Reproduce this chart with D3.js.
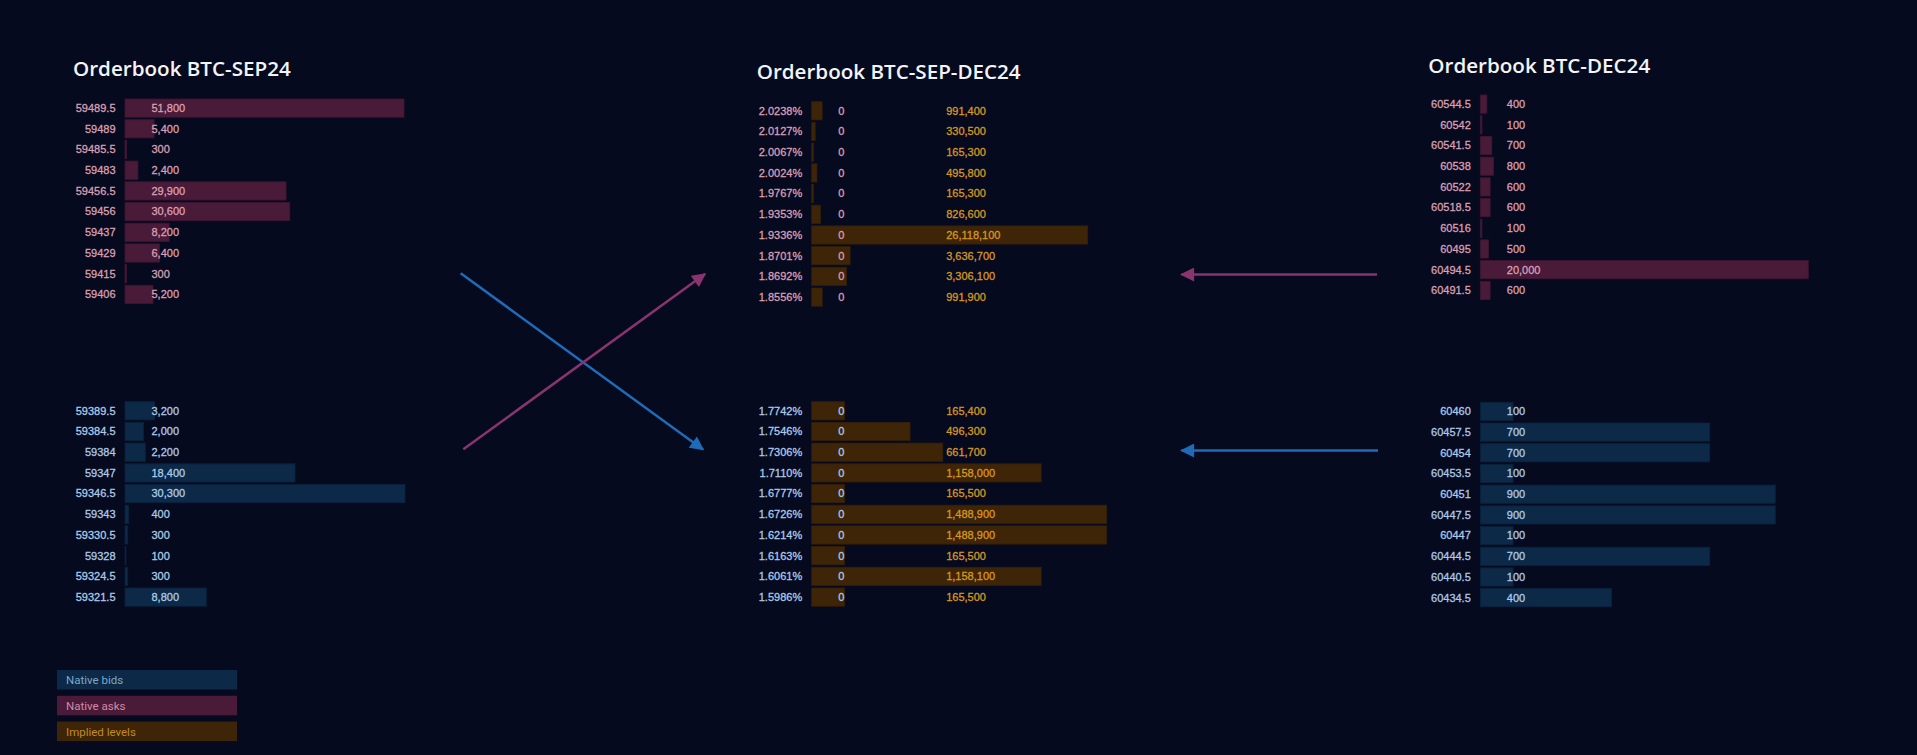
<!DOCTYPE html>
<html>
<head>
<meta charset="utf-8">
<script src="https://cdn.jsdelivr.net/npm/d3@7"></script>
<style>
  html, body { margin: 0; padding: 0; background: #060a1f; }
  svg { display: block; }
</style>
</head>
<body>
<svg id="chart"></svg>
<script>
// dados dos livros
const sepAskPrices = ["59489.5", "59489", "59485.5", "59483", "59456.5", "59456", "59437", "59429", "59415", "59406"];
const sepAskSizes = [51800, 5400, 300, 2400, 29900, 30600, 8200, 6400, 300, 5200];
const sepBidPrices = ["59389.5", "59384.5", "59384", "59347", "59346.5", "59343", "59330.5", "59328", "59324.5", "59321.5"];
const sepBidSizes = [3200, 2000, 2200, 18400, 30300, 400, 300, 100, 300, 8800];

const spreadAskPct = ["2.0238%", "2.0127%", "2.0067%", "2.0024%", "1.9767%", "1.9353%", "1.9336%", "1.8701%", "1.8692%", "1.8556%"];
const spreadAskNative = [0, 0, 0, 0, 0, 0, 0, 0, 0, 0];
const spreadAskImplied = [991400, 330500, 165300, 495800, 165300, 826600, 26118100, 3636700, 3306100, 991900];
const spreadBidPct = ["1.7742%", "1.7546%", "1.7306%", "1.7110%", "1.6777%", "1.6726%", "1.6214%", "1.6163%", "1.6061%", "1.5986%"];
const spreadBidNative = [0, 0, 0, 0, 0, 0, 0, 0, 0, 0];
const spreadBidImplied = [165400, 496300, 661700, 1158000, 165500, 1488900, 1488900, 165500, 1158100, 165500];

const decAskPrices = ["60544.5", "60542", "60541.5", "60538", "60522", "60518.5", "60516", "60495", "60494.5", "60491.5"];
const decAskSizes = [400, 100, 700, 800, 600, 600, 100, 500, 20000, 600];
const decBidPrices = ["60460", "60457.5", "60454", "60453.5", "60451", "60447.5", "60447", "60444.5", "60440.5", "60434.5"];
const decBidSizes = [100, 700, 700, 100, 900, 900, 100, 700, 100, 400];

const titles = ["Orderbook BTC-SEP24", "Orderbook BTC-SEP-DEC24", "Orderbook BTC-DEC24"];
const legendLabels = ["Native bids", "Native asks", "Implied levels"];

const W = 1917, H = 755;
const cores = {
  ask: { bar: "#4a1a39", edge: "#3e1631", text: "#d99fb2" },
  bid: { bar: "#0c2947", edge: "#0a223c", text: "#abc9e8" },
  imp: { bar: "#3f2508", edge: "#341f07", text: "#d6971e" }
};
const fmt = d3.format(",");
const fonte = "11px 'Liberation Sans', Arial, sans-serif";

const svg = d3.select("#chart").attr("width", W).attr("height", H);

svg.append("rect").attr("width", W).attr("height", H).attr("fill", "#060a1f");

const step = 20.7;

function livro(cfg) {
  const g = svg.append("g");
  const rows = cfg.labels.map((l, i) => ({ l, v: cfg.values[i], imp: cfg.implied ? cfg.implied[i] : null }));
  const maxV = cfg.implied ? d3.max(cfg.implied) : d3.max(cfg.values);
  const x = d3.scaleLinear().domain([0, maxV]).range([cfg.x0, cfg.x0 + cfg.width]);
  const y = d3.scaleBand().domain(cfg.labels)
    .range([cfg.y0 - step * 0.06, cfg.y0 - step * 0.06 + step * rows.length])
    .paddingInner(0.12).paddingOuter(0.06);
  const c = cores[cfg.side];

  if (cfg.implied) {
    g.selectAll(".imp").data(rows).enter().append("rect")
      .attr("x", x(0)).attr("y", d => y(d.l))
      .attr("width", d => Math.max(0, x(d.imp) - x(0)))
      .attr("height", y.bandwidth())
      .attr("fill", cores.imp.bar)
      .attr("stroke", cores.imp.edge).attr("stroke-width", 0.8);
  }
  g.selectAll(".nat").data(rows).enter().append("rect")
    .attr("x", x(0)).attr("y", d => y(d.l))
    .attr("width", d => Math.max(0, x(d.v) - x(0)))
    .attr("height", y.bandwidth())
    .attr("fill", c.bar)
    .attr("stroke", c.edge).attr("stroke-width", 0.8);

  // rotulos de preco
  g.selectAll(".lbl").data(rows).enter().append("text")
    .attr("x", cfg.x0 - 9.5).attr("y", d => y(d.l) + y.bandwidth() / 2)
    .attr("dy", "0.35em").attr("text-anchor", "end")
    .attr("fill", c.text).attr("stroke", c.text).attr("stroke-width", 0.3)
    .style("font", fonte)
    .text(d => d.l);

  g.selectAll(".val").data(rows).enter().append("text")
    .attr("x", cfg.x0 + 26.5).attr("y", d => y(d.l) + y.bandwidth() / 2)
    .attr("dy", "0.35em")
    .attr("fill", c.text).attr("stroke", c.text).attr("stroke-width", 0.3)
    .style("font", fonte)
    .text(d => fmt(d.v));

  if (cfg.implied) {
    g.selectAll(".impv").data(rows).enter().append("text")
      .attr("x", cfg.x0 + 134.5).attr("y", d => y(d.l) + y.bandwidth() / 2)
      .attr("dy", "0.35em")
      .attr("fill", cores.imp.text).attr("stroke", cores.imp.text).attr("stroke-width", 0.3)
      .style("font", fonte)
      .text(d => fmt(d.imp));
  }
}

function titulo(txt, x, y) {
  svg.append("text").attr("x", x).attr("y", y)
    .attr("fill", "#f2f4f8")
    .style("font", "600 20.6px 'Open Sans', sans-serif")
    .text(txt);
}

// painel esquerdo
titulo(titles[0], 73, 76);
livro({ labels: sepAskPrices, values: sepAskSizes, x0: 125, y0: 99, width: 279, side: "ask" });
livro({ labels: sepBidPrices, values: sepBidSizes, x0: 125, y0: 401.7, width: 280, side: "bid" });

// painel do spread
titulo(titles[1], 756.7, 78.5);
livro({ labels: spreadAskPct, values: spreadAskNative, implied: spreadAskImplied, x0: 811.7, y0: 101.7, width: 276, side: "ask" });
livro({ labels: spreadBidPct, values: spreadBidNative, implied: spreadBidImplied, x0: 811.7, y0: 401.7, width: 295, side: "bid" });

// painel direito
titulo(titles[2], 1428.3, 73);
livro({ labels: decAskPrices, values: decAskSizes, x0: 1480.3, y0: 95, width: 328, side: "ask" });
livro({ labels: decBidPrices, values: decBidSizes, x0: 1480.3, y0: 402.3, width: 295, side: "bid" });

// setas
const defs = svg.append("defs");
[["azul", "#1f6bb9"], ["rosa", "#8a346f"]].forEach(([id, cor]) => {
  defs.append("marker").attr("id", "seta-" + id)
    .attr("viewBox", "0 0 10 10").attr("refX", 9).attr("refY", 5)
    .attr("markerUnits", "userSpaceOnUse")
    .attr("markerWidth", 19).attr("markerHeight", 14)
    .attr("orient", "auto")
    .append("path").attr("d", "M0,0 L10,5 L0,10 z").attr("fill", cor);
});

const setas = [
  { x1: 460.7, y1: 273.3, x2: 703, y2: 449.5, c: "azul", cor: "#1f6bb9" },
  { x1: 463.3, y1: 449.3, x2: 705, y2: 274, c: "rosa", cor: "#8a346f" },
  { x1: 1377, y1: 274.5, x2: 1181.5, y2: 274.5, c: "rosa", cor: "#8a346f" },
  { x1: 1378, y1: 450.5, x2: 1181.5, y2: 450.5, c: "azul", cor: "#1f6bb9" }
];
svg.selectAll(".seta").data(setas).enter().append("line")
  .attr("x1", d => d.x1).attr("y1", d => d.y1)
  .attr("x2", d => d.x2).attr("y2", d => d.y2)
  .attr("stroke", d => d.cor).attr("stroke-width", 2.5)
  .attr("marker-end", d => `url(#seta-${d.c})`);

// legenda
const legCores = [cores.bid, cores.ask, cores.imp];
const leg = svg.selectAll(".leg").data(legendLabels).enter().append("g")
  .attr("transform", (d, i) => `translate(57, ${670 + i * 25.8})`);
leg.append("rect").attr("width", 180).attr("height", 19.5)
  .attr("fill", (d, i) => legCores[i].bar);
leg.append("text").attr("x", 9).attr("y", 10).attr("dy", "0.35em")
  .attr("fill", (d, i) => i === 0 ? "#7fa6cc" : i === 1 ? "#d08aa6" : "#c08a1e")
  .style("font", "11.5px Roboto, sans-serif")
  .text(d => d);
</script>
</body>
</html>
